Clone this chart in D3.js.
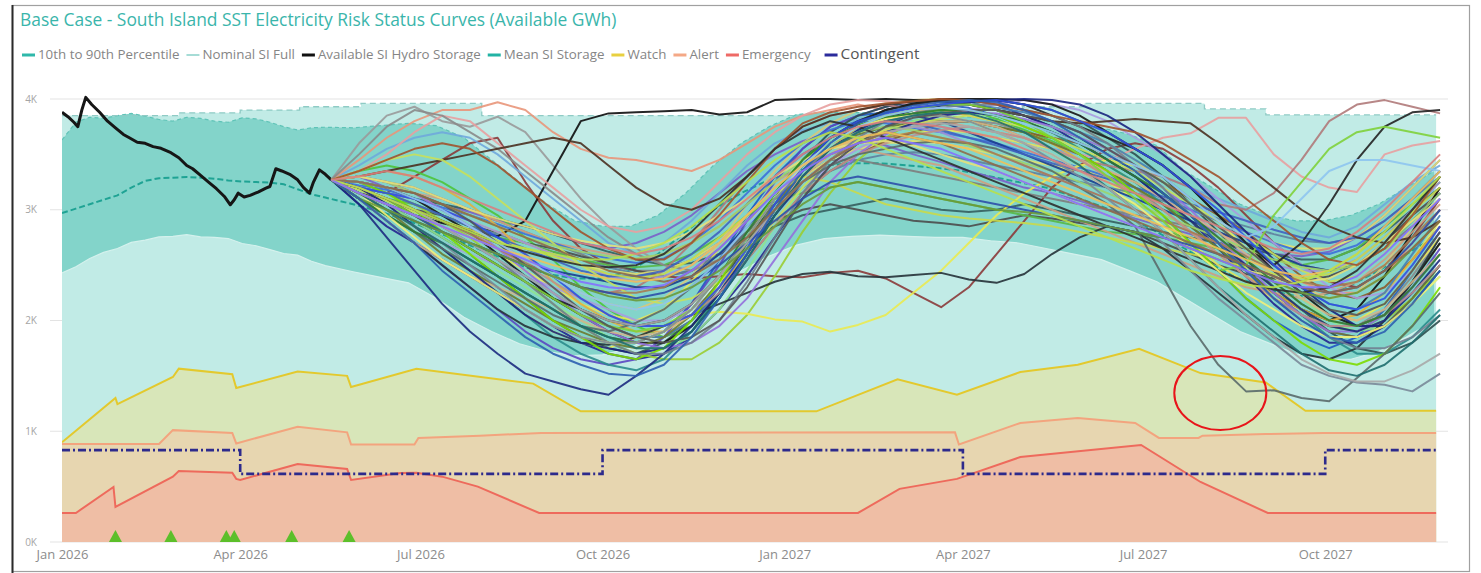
<!DOCTYPE html>
<html>
<head>
<meta charset="utf-8">
<script src="https://cdn.jsdelivr.net/npm/d3@7"></script>
<style>
  body { margin: 0; background: #fff; }
  svg { display: block; font-family: "Open Sans", "Noto Sans", sans-serif; }
</style>
</head>
<body>
<svg id="chart" width="1481" height="573"></svg>
<script>
// ---------------- data ----------------
const titleText = "Base Case - South Island SST Electricity Risk Status Curves (Available GWh)";

const xTickDates = ["2026-01-01","2026-04-01","2026-07-01","2026-10-01","2027-01-01","2027-04-01","2027-07-01","2027-10-01"];
const yTickValues = [0, 1000, 2000, 3000, 4000];

// Nominal SI full storage, monthly steps
const nominalMonths = ["2026-01-01","2026-02-01","2026-03-01","2026-04-01","2026-05-01","2026-06-01","2026-07-01","2026-08-01","2026-09-01","2026-10-01","2026-11-01","2026-12-01",
  "2027-01-01","2027-02-01","2027-03-01","2027-04-01","2027-05-01","2027-06-01","2027-07-01","2027-08-01","2027-09-01","2027-10-01","2027-11-01"];
const nominalFull = [3850,3850,3875,3900,3930,3960,3960,3850,3850,3850,3850,3850,
  3850,3850,3875,3900,3930,3960,3960,3910,3856,3856,3856];
const seriesEnd = "2027-11-26";

// Percentile band and mean storage
const bandDates = ["2026-01-01","2026-01-08","2026-01-15","2026-01-22","2026-01-29","2026-02-05","2026-02-12","2026-02-19","2026-02-26","2026-03-05",
  "2026-03-12","2026-03-19","2026-03-26","2026-04-02","2026-04-09","2026-04-16","2026-04-23","2026-04-30","2026-05-07","2026-05-14",
  "2026-05-28","2026-06-11","2026-06-25","2026-07-09","2026-07-23","2026-08-06","2026-08-20","2026-09-03","2026-09-17","2026-10-01",
  "2026-10-15","2026-10-29","2026-11-12","2026-11-26","2026-12-10","2026-12-24","2027-01-07","2027-01-21","2027-02-04","2027-02-18",
  "2027-03-04","2027-03-18","2027-04-01","2027-04-15","2027-04-29","2027-05-13","2027-05-27","2027-06-10","2027-06-24","2027-07-08",
  "2027-07-22","2027-08-05","2027-08-19","2027-09-02","2027-09-16","2027-09-30","2027-10-14","2027-10-28","2027-11-11","2027-11-25"];
const p90 = [3630,3790,3835,3825,3850,3870,3845,3815,3800,3835,3825,3800,3790,3830,3820,3790,3750,3720,3740,3745,
  3740,3760,3780,3760,3650,3450,3250,3050,2900,2850,2850,2950,3150,3400,3600,3750,
  3860,3880,3880,3870,3860,3850,3840,3830,3820,3800,3780,3740,3680,3580,3350,3200,3050,2950,2900,2900,2950,3050,3200,3350];
const p10 = [2430,2485,2560,2615,2650,2705,2725,2755,2760,2775,2755,2750,2740,2695,2675,2640,2605,2590,2535,2495,
  2440,2390,2340,2200,2030,1900,1790,1720,1680,1690,1750,1900,2100,2300,2450,2580,
  2680,2740,2760,2770,2760,2750,2750,2720,2700,2650,2600,2550,2450,2350,2200,2050,1900,1800,1700,1650,1650,1720,1850,2000];
const meanStorage = [2970,3010,3050,3090,3130,3200,3260,3285,3290,3295,3290,3280,3265,3255,3250,3245,3230,3185,3140,3110,
  3050,2980,2900,2800,2700,2600,2500,2420,2380,2380,2450,2600,2800,3000,3150,3270,
  3350,3400,3420,3420,3400,3380,3350,3300,3250,3200,3120,3030,2930,2800,2650,2500,2380,2280,2220,2230,2320,2450,2600,2750];

// Available SI hydro storage (actual)
const availDates = ["2026-01-01","2026-01-04","2026-01-07","2026-01-09","2026-01-11","2026-01-13","2026-01-16","2026-01-20","2026-01-24","2026-01-28",
  "2026-02-01","2026-02-04","2026-02-08","2026-02-12","2026-02-16","2026-02-20","2026-02-25","2026-03-01","2026-03-05","2026-03-08",
  "2026-03-12","2026-03-16","2026-03-20","2026-03-24","2026-03-27","2026-03-29","2026-03-31","2026-04-03","2026-04-06","2026-04-10",
  "2026-04-14","2026-04-16","2026-04-19","2026-04-22","2026-04-26","2026-04-30","2026-05-03","2026-05-06","2026-05-08","2026-05-11",
  "2026-05-14","2026-05-17"];
const availStorage = [3880,3840,3790,3750,3900,4015,3950,3880,3800,3740,
  3680,3650,3610,3600,3570,3555,3515,3470,3400,3370,
  3310,3250,3190,3120,3045,3090,3150,3115,3130,3160,
  3195,3210,3370,3350,3320,3270,3200,3150,3250,3360,
  3320,3270];

// Risk status curves
const watchDates = ["2026-01-01","2026-01-28","2026-01-29","2026-02-26","2026-03-01","2026-03-28","2026-03-30","2026-04-30","2026-05-25","2026-05-27",
  "2026-06-29","2026-08-27","2026-09-20","2027-01-17","2027-02-27","2027-03-29","2027-04-30","2027-05-29","2027-06-29","2027-07-30",
  "2027-09-01","2027-09-21","2027-11-26"];
const watchValues = [900,1300,1245,1490,1565,1515,1390,1540,1500,1400,
  1565,1430,1180,1180,1470,1330,1535,1600,1745,1525,
  1440,1185,1185];

const alertDates = ["2026-01-01","2026-02-19","2026-02-26","2026-03-28","2026-03-30","2026-04-30","2026-05-25","2026-05-27","2026-06-28","2026-06-30",
  "2026-07-31","2026-08-31","2027-03-28","2027-03-30","2027-04-30","2027-05-29","2027-06-27","2027-07-09","2027-07-29","2027-07-31",
  "2027-09-01","2027-09-30","2027-11-26"];
const alertValues = [885,885,1010,985,890,1040,990,880,880,940,
  960,985,990,880,1075,1120,1075,940,940,960,
  975,985,985];

const emergencyDates = ["2026-01-01","2026-01-08","2026-01-27","2026-01-28","2026-02-26","2026-03-01","2026-03-28","2026-03-30","2026-04-01","2026-04-30",
  "2026-05-25","2026-05-27","2026-06-21","2026-06-29","2026-07-12","2026-07-30","2026-08-30","2027-02-07","2027-02-28","2027-03-29",
  "2027-04-30","2027-06-30","2027-07-30","2027-09-02","2027-11-26"];
const emergencyValues = [262,262,497,316,590,640,625,570,560,705,
  660,560,623,625,590,500,262,262,480,570,
  767,876,542,262,262];

const contingentDates = ["2026-01-01","2026-04-01","2026-10-01","2027-04-01","2027-10-01","2027-11-26"];
const contingentValues = [830,615,830,615,830,830];

// Event markers along the base of the chart
const markerDates = ["2026-01-28","2026-02-25","2026-03-25","2026-03-29","2026-04-27","2026-05-26"];

// Annotation ring
const noteDate = "2027-08-09";
const noteValue = 1345;

// Simulated storage sequences, fortnightly from 17 May 2026
const scenarioStart = "2026-05-17";
const scenarioStepDays = 14;

const s01 = [3270,3150,3000,2850,2700,2550,2400,2250,2100,1950, 1850,1800,1900,2150,2550,2950,3300,3550,3750,3850, 3880,3920,3950,3920,3850,3750,3650,3500,3350,3150, 2950,2700,2450,2200,2000,1850,1750,1850,2100,2450, 2800];
const s02 = [3270,3350,3400,3350,3250,3100,2950,2750,2550,2300, 2100,1950,1850,1950,2200,2600,3000,3350,3600,3750, 3800,3850,3880,3900,3820,3720,3620,3500,3350,3200, 3050,2900,2700,2500,2300,2100,1950,1900,2050,2350, 2700];
const s03 = [3270,3200,3100,2950,2800,2700,2600,2450,2300,2150, 2050,2000,2100,2350,2650,2950,3200,3400,3550,3620, 3650,3700,3720,3700,3650,3600,3550,3400,3250,3100, 2900,2700,2500,2350,2200,2100,2000,2050,2250,2550, 2900];
const s04 = [3270,3100,2900,2700,2500,2300,2100,1900,1750,1650, 1600,1650,1850,2150,2500,2900,3250,3550,3750,3850, 3930,3970,3990,4000,3980,3900,3800,3700,3550,3400, 3200,2950,2700,2450,2250,2050,1900,1850,2000,2300, 2650];
const s05 = [3270,3200,3050,2900,2750,2600,2400,2200,2000,1850, 1750,1700,1800,2000,2300,2700,3100,3450,3700,3850, 3930,3980,4000,4000,3990,3950,3900,3800,3650,3500, 3300,3050,2800,2550,2300,2100,1900,1750,1700,1800, 2000];
const s06 = [3270,3300,3250,3150,3000,2850,2700,2550,2400,2250, 2150,2100,2200,2400,2700,3050,3350,3600,3780,3900, 3960,3990,4000,3990,3950,3900,3850,3750,3600,3450, 3250,3050,2850,2650,2450,2300,2200,2250,2500,2850, 3200];
const s07 = [3270,3050,2850,2700,2550,2400,2250,2100,1950,1800, 1700,1650,1700,1850,2100,2400,2750,3100,3400,3600, 3750,3870,3950,3990,3950,3850,3750,3600,3450,3300, 3100,2900,2650,2400,2150,1950,1800,1800,1950,2200, 2500];
const s08 = [3270,3200,3150,3050,2900,2750,2550,2350,2150,1950, 1800,1700,1650,1650,1800,2050,2400,2800,3150,3450, 3650,3800,3850,3900,3850,3800,3700,3550,3400,3250, 3100,2900,2700,2500,2300,2100,1950,1900,2000,2200, 2450];
const s09 = [3270,3150,3050,2950,2800,2650,2500,2350,2200,2050, 1950,1850,1850,2000,2250,2550,2850,3150,3350,3500, 3620,3700,3780,3800,3750,3700,3650,3600,3500,3400, 3250,3100,2950,2800,2600,2400,2250,2200,2300,2550, 2850];
const s10 = [3270,3400,3550,3650,3700,3650,3500,3300,3100,2900, 2700,2600,2700,2900,3150,3400,3600,3720,3780,3820, 3850,3800,3750,3700,3650,3600,3550,3500,3450,3400, 3300,3200,3100,3000,2900,2800,2750,2850,3050,3250, 3400];
const s11 = [3270,3500,3750,3900,3850,3700,3550,3350,3150,2950, 2750,2600,2500,2450,2550,2800,3050,3300,3500,3620, 3700,3750,3780,3800,3780,3700,3600,3500,3350,3200, 3000,2800,2600,2400,2200,2050,1950,1950,2100,2400, 2750];
const s12 = [3270,3150,3000,2850,2700,2600,2500,2400,2300,2200, 2100,2000,2000,2100,2300,2600,2900,3200,3400,3550, 3680,3780,3850,3900,3950,3990,3950,3900,3800,3650, 3500,3300,3100,2900,2700,2500,2300,2200,2250,2450, 2750];
const s13 = [3270,3100,2950,2800,2650,2450,2250,2050,1850,1700, 1600,1550,1650,1900,2250,2650,3050,3400,3650,3800, 3900,3960,3990,3980,3900,3800,3700,3550,3400,3250, 3050,2850,2650,2450,2250,2050,1850,1700,1700,1850, 2100];
const s14 = [3270,3250,3200,3100,2950,2800,2600,2400,2200,2050, 1900,1800,1800,1950,2250,2600,3000,3350,3600,3780, 3900,3960,4000,4000,4000,3990,3950,3850,3700,3550, 3400,3200,2950,2700,2450,2250,2050,1950,2050,2350, 2700];
const s15 = [3270,3150,3050,2900,2750,2600,2450,2300,2150,2000, 1850,1750,1750,1850,2100,2450,2850,3200,3450,3620, 3740,3800,3850,3870,3850,3800,3750,3650,3550,3400, 3250,3050,2850,2650,2400,2200,2000,1900,1950,2150, 2400];
const s16 = [3270,3300,3350,3300,3200,3050,2850,2600,2350,2150, 2000,1900,1900,2050,2300,2600,2950,3300,3550,3750, 3850,3900,3900,3850,3800,3700,3600,3450,3300,3150, 3000,2800,2600,2400,2250,2100,2000,2050,2250,2550, 2850];
const s17 = [3270,3200,3100,3000,2850,2700,2550,2400,2250,2100, 1950,1850,1850,2000,2250,2600,3000,3350,3600,3750, 3830,3900,3950,3950,3920,3880,3800,3700,3600,3450, 3300,3100,2900,2700,2500,2300,2150,2100,2250,2600, 2950];
const s18 = [3270,3150,3000,2800,2600,2450,2300,2150,2000,1900, 1800,1750,1850,2050,2350,2700,3050,3350,3550,3680, 3750,3780,3800,3800,3750,3700,3600,3500,3350,3200, 3050,2850,2650,2450,2250,2050,1900,1850,1950,2200, 2500];
const s19 = [3270,3300,3250,3150,3000,2850,2650,2450,2250,2050, 1900,1800,1750,1800,1950,2200,2550,2900,3250,3500, 3680,3780,3850,3880,3870,3820,3750,3650,3550,3400, 3200,3000,2750,2500,2250,2050,1900,1900,2050,2300, 2600];
const s20 = [3270,3100,2900,2700,2550,2400,2300,2200,2100,2000, 1900,1850,1900,2050,2300,2650,3000,3300,3500,3650, 3720,3780,3800,3800,3750,3650,3550,3450,3350,3250, 3100,2950,2800,2600,2400,2200,2050,2000,2100,2350, 2600];
const s21 = [3270,3350,3450,3500,3450,3300,3100,2900,2700,2500, 2350,2200,2150,2200,2350,2600,2900,3200,3450,3620, 3720,3780,3820,3850,3800,3750,3650,3550,3450,3350, 3200,3050,2900,2750,2600,2450,2350,2400,2600,2950, 3300];
const s22 = [3270,3200,3050,2850,2650,2450,2250,2050,1900,1800, 1750,1700,1750,1900,2200,2550,2950,3300,3550,3720, 3830,3900,3940,3970,3990,4000,3990,3950,3850,3700, 3500,3300,3050,2800,2550,2300,2100,1950,1950,2150, 2450];
const s23 = [3270,3200,3100,3000,2900,2800,2650,2500,2350,2200, 2050,1950,1950,2050,2250,2550,2850,3150,3350,3500, 3600,3670,3720,3750,3700,3650,3550,3450,3300,3150, 3000,2800,2600,2400,2200,2050,1950,1950,2050,2250, 2500];
const s24 = [3270,3250,3150,3000,2800,2600,2400,2200,2000,1850, 1700,1650,1750,2000,2350,2750,3150,3450,3650,3760, 3830,3870,3900,3900,3850,3750,3650,3500,3350,3150, 2950,2700,2450,2200,2000,1800,1650,1600,1700,1950, 2300];
const s25 = [3270,3150,3050,2950,2850,2700,2550,2350,2150,1950, 1800,1700,1700,1800,2000,2350,2750,3150,3450,3650, 3800,3870,3920,3950,3950,3900,3850,3750,3600,3400, 3200,2950,2700,2450,2200,2000,1850,1750,1750,1850, 2050];
const s26 = [3270,3350,3450,3550,3600,3550,3400,3200,3000,2800, 2650,2550,2550,2700,2950,3250,3550,3780,3880,3930, 3960,3980,4000,3990,3950,3900,3850,3800,3750,3700, 3600,3450,3300,3100,2900,2700,2550,2500,2650,2950, 3300];
const s27 = [3270,3100,2950,2800,2700,2550,2400,2250,2100,1950, 1850,1800,1900,2100,2400,2800,3150,3450,3650,3760, 3830,3870,3900,3900,3850,3800,3700,3600,3450,3300, 3150,2950,2750,2550,2350,2150,2000,1950,2050,2300, 2600];
const s28 = [3270,3200,3150,3100,3000,2900,2750,2600,2400,2200, 2050,1950,1950,2050,2300,2650,3050,3400,3650,3800, 3870,3920,3950,3980,3990,3950,3900,3800,3700,3550, 3400,3200,3000,2750,2500,2300,2150,2100,2200,2500, 2850];
const s29 = [3270,3150,2950,2750,2550,2400,2250,2100,1950,1850, 1800,1800,1900,2100,2400,2750,3100,3400,3600,3750, 3820,3850,3850,3800,3700,3600,3500,3350,3200,3050, 2850,2650,2450,2250,2100,1950,1850,1850,1950,2150, 2400];
const s30 = [3270,3250,3200,3150,3050,2900,2700,2500,2300,2100, 1950,1850,1800,1850,2000,2300,2700,3100,3400,3600, 3750,3830,3870,3900,3900,3850,3800,3700,3550,3400, 3250,3050,2850,2650,2450,2250,2100,2050,2150,2450, 2800];
const s31 = [3270,3150,3000,2850,2700,2550,2400,2250,2100,1950, 1850,1750,1750,1900,2200,2550,2950,3300,3550,3700, 3800,3850,3880,3870,3800,3700,3550,3400,3200,3000, 2800,2550,2300,2100,1900,1700,1550,1500,1600,1800, 2050];
const s32 = [3270,3200,3100,3000,2850,2700,2550,2400,2250,2100, 2000,1950,2000,2150,2400,2700,3000,3250,3450,3600, 3700,3750,3780,3750,3700,3600,3500,3350,3200,3000, 2800,2550,2300,2050,1850,1650,1520,1450,1450,1550, 1700];
const s33 = [3270,3100,2900,2700,2450,2250,2050,1850,1700,1600, 1520,1500,1600,1850,2200,2600,3000,3350,3600,3780, 3880,3940,3970,3990,3970,3900,3800,3650,3500,3350, 3150,2950,2700,2450,2200,2000,1850,1800,1900,2150, 2450];
const s34 = [3270,3050,2750,2450,2150,1900,1700,1520,1450,1380, 1330,1500,1700,1950,2250,2600,2950,3250,3450,3600, 3700,3780,3850,3880,3850,3800,3700,3600,3450,3300, 3100,2900,2700,2500,2300,2100,1950,1900,2000,2250, 2550];
const s35 = [3270,3150,3050,2950,2880,2820,2760,2900,3350,3800, 3870,3880,3890,3900,3860,3880,3990,4000,4000,3990, 4000,3990,3980,3950,3900,3850,3750,3650,3500,3350, 3150,2950,2700,2450,2250,2100,2000,2100,2400,2800, 3200];
const s36 = [3270,3150,3000,2850,2650,2450,2250,2050,1900,1800, 1750,1850,1950,2050,2080,2060,2010,1990,1900,1960, 2050,2250,2450,2700,2950,3150,3300,3400,3450,3400, 3300,3100,2900,2650,2400,2200,2050,2000,2150,2450, 2750];
const s37 = [3270,3100,2900,2700,2500,2300,2100,1950,1850,1800, 1780,1850,1950,2050,2150,2250,2350,2420,2440,2400, 2390,2410,2430,2370,2340,2420,2600,2750,2850,2800, 2650,2450,2250,2050,1850,1700,1650,1750,2000,2350, 2750];
const s38 = [3270,3200,3150,3300,3450,3600,3650,3250,2900,2650, 2500,2450,2400,2380,2400,2420,2400,2390,2430,2450, 2380,2250,2120,2300,2600,2900,3200,3400,3550,3600, 3550,3400,3200,2950,2700,2500,2350,2300,2450,2750, 3100];
const s39 = [3270,3100,2950,2800,2650,2500,2350,2200,2050,1950, 1900,1980,2100,2300,2550,2800,3050,3250,3400,3500, 3550,3600,3620,3600,3550,3450,3350,3200,3050,2850, 2400,1950,1600,1360,1370,1300,1270,1480,1700,1950, 2250];
const s40 = [3270,3150,3000,2850,2700,2500,2300,2100,1950,1850, 1800,1800,1900,2100,2400,2750,3100,3350,3550,3700, 3800,3850,3850,3800,3700,3600,3450,3300,3100,2900, 2700,2450,2200,2000,1800,1600,1500,1440,1420,1360, 1520];
const s41 = [3270,3350,3500,3700,3850,3800,3600,3400,3200,3000, 2850,2800,2850,3000,3250,3500,3700,3850,3950,3990, 3980,3950,3900,3850,3800,3700,3600,3500,3450,3550, 3650,3690,3830,3830,3500,3300,3200,3160,3500,3580, 3620];
const s42 = [3270,3300,3250,3150,3000,2850,2700,2550,2400,2300, 2250,2300,2450,2700,3000,3300,3550,3750,3850,3900, 3950,3900,3850,3800,3750,3650,3550,3450,3400,3350, 3300,3200,3050,3000,3150,3450,3800,3950,3990,3930, 3870];
const s43 = [3270,3200,3100,2950,2800,2650,2500,2350,2200,2100, 2000,1950,2000,2150,2400,2750,3100,3400,3650,3800, 3900,3950,3990,4000,3990,3950,3850,3750,3650,3550, 3400,3200,2950,2700,2500,2700,3050,3450,3750,3880, 3900];
const s44 = [3270,3300,3350,3400,3450,3500,3550,3600,3650,3600, 3400,3200,3050,3000,3100,3300,3550,3750,3850,3900, 3950,3980,3990,3950,3900,3850,3800,3780,3800,3820, 3800,3780,3600,3400,3200,3000,2850,2750,2700,2750, 2900];
const s45 = [3270,3450,3650,3800,3900,3900,3970,3900,3700,3550, 3470,3450,3400,3350,3450,3600,3750,3850,3900,3950, 3900,3850,3800,3750,3700,3650,3550,3450,3350,3250, 3100,2950,2800,2650,2500,2350,2250,2250,2400,2700, 3000];
const s46 = [3270,3600,3850,3930,3800,3750,3840,3700,3400,3100, 2850,2650,2500,2450,2550,2800,3100,3400,3650,3800, 3900,3950,3980,3950,3900,3800,3700,3600,3450,3300, 3150,2950,2750,2550,2350,2150,2000,1950,2050,2350, 2700];
const s47 = [3270,3200,3100,2950,2800,2650,2500,2350,2200,2050, 1950,1900,1950,2100,2400,2750,3100,3400,3600,3750, 3850,3900,3950,3950,3900,3800,3650,3500,3300,3100, 2900,2650,2450,2500,2950,3250,3550,3700,3750,3700, 3650];
const s48 = [3270,3250,3200,3100,3000,2850,2700,2550,2400,2250, 2150,2100,2150,2300,2550,2850,3150,3400,3600,3750, 3850,3900,3920,3900,3850,3780,3700,3600,3500,3400, 3300,3100,2900,2750,2850,3100,3350,3450,3450,3400, 3350];
const s49 = [3270,3220,3180,3100,3020,2950,2870,2780,2700,2620, 2560,2520,2560,2700,2900,3150,3400,3600,3720,3800, 3780,3740,3700,3650,3600,3520,3450,3380,3300,3200, 3100,3000,2900,2800,2700,2620,2600,2680,2850,3100, 3350];
const s50 = [3270,3300,3200,3150,3050,2980,2900,2850,2780,2700, 2650,2700,2800,2950,3150,3350,3500,3620,3700,3650, 3580,3500,3430,3350,3280,3200,3150,3080,3000,2920, 2850,2780,2700,2650,2600,2580,2620,2750,2950,3200, 3450];
const s51 = [3270,3180,3080,2980,2900,2820,2720,2650,2580,2500, 2420,2380,2420,2550,2750,2950,3150,3300,3250,3150, 3050,3000,2950,2920,2900,2880,2850,2800,2750,2700, 2650,2600,2550,2480,2420,2380,2420,2550,2750,2980, 3200];
const s52 = [3270,3150,3100,3000,2950,2850,2800,2700,2650,2580, 2520,2450,2400,2450,2600,2750,2900,3000,3050,3000, 2950,2900,2880,2850,2900,2950,2920,2880,2850,2800, 2700,2600,2500,2420,2380,2350,2400,2500,2700,2950, 3150];
const s53 = [3270,3300,3250,3200,3100,3000,2920,2850,2780,2720, 2680,2650,2700,2800,2950,3100,3300,3450,3550,3600, 3620,3580,3500,3420,3350,3250,3150,3050,2950,2850, 2750,2650,2550,2450,2400,2350,2380,2500,2700,2900, 3100];
const s54 = [3270,3150,3050,2950,2800,2700,2600,2500,2400,2300, 2250,2200,2250,2350,2500,2700,2900,3100,3250,3300, 3250,3200,3150,3100,3050,3000,2950,2900,2850,2800, 2750,2680,2600,2500,2400,2300,2250,2300,2450,2700, 3000];
const s55 = [3270,3200,3100,3050,2950,2850,2750,2700,2620,2550, 2500,2480,2500,2600,2750,2950,3100,3150,3200,3250, 3200,3150,3100,3050,3000,2950,2900,2850,2800,2780, 2750,2700,2650,2600,2550,2500,2550,2650,2850,3050, 3250];
const s56 = [3270,3250,3200,3150,3050,2950,2850,2750,2650,2550, 2450,2400,2350,2400,2550,2750,3000,3250,3450,3600, 3700,3650,3600,3500,3400,3300,3200,3100,3000,2900, 2800,2700,2600,2500,2400,2300,2250,2300,2450,2650, 2900];
const s57 = [3270,3200,3150,3100,3000,2900,2800,2700,2600,2500, 2400,2350,2400,2500,2700,2950,3200,3400,3550,3650, 3700,3750,3700,3600,3500,3400,3300,3200,3100,3000, 2900,2800,2700,2600,2500,2450,2450,2550,2750,3000, 3250];
const s58 = [3270,3150,3050,2950,2850,2750,2650,2580,2500,2430, 2380,2350,2380,2500,2700,2950,3200,3400,3550,3650, 3700,3650,3600,3550,3450,3350,3250,3150,3050,2950, 2850,2750,2650,2550,2450,2400,2450,2600,2850,3100, 3350];
const s59 = [3270,3200,3150,3100,3050,3000,2920,2850,2780,2700, 2620,2550,2500,2520,2600,2750,2850,2950,3000,3050, 3100,3050,3000,2980,3000,3050,3000,2950,2900,2850, 2800,2750,2700,2650,2600,2550,2550,2650,2800,3000, 3200];
const s60 = [3270,3100,3000,2900,2800,2700,2600,2500,2400,2300, 2220,2180,2200,2300,2450,2650,2850,3050,3200,3250, 3200,3150,3100,3050,3000,2980,2950,2900,2850,2800, 2750,2650,2550,2450,2350,2250,2200,2250,2400,2650, 2900];
const s61 = [3270,3250,3200,3150,3100,3000,2900,2800,2700,2650, 2600,2550,2600,2700,2850,3050,3250,3400,3500,3550, 3500,3450,3400,3300,3200,3100,3000,2900,2800,2700, 2600,2500,2400,2300,2250,2200,2250,2350,2550,2800, 3050];
const s62 = [3270,3150,3000,2900,2800,2700,2600,2500,2450,2400, 2350,2300,2300,2400,2600,2850,3100,3350,3550,3700, 3800,3850,3800,3700,3600,3500,3400,3300,3200,3100, 3000,2900,2800,2700,2600,2500,2450,2500,2650,2900, 3150];
const s63 = [3270,3200,3100,3000,2900,2800,2700,2650,2600,2550, 2550,2600,2700,2850,3050,3250,3450,3600,3700,3650, 3550,3450,3350,3250,3150,3050,2950,2850,2750,2650, 2550,2450,2380,2320,2300,2350,2450,2600,2800,3050, 3300];
const s64 = [3270,3300,3250,3200,3100,3000,2900,2800,2700,2600, 2500,2450,2450,2550,2700,2900,3100,3300,3450,3450, 3400,3350,3300,3250,3200,3150,3100,3050,3000,2950, 2900,2850,2800,2700,2600,2500,2450,2500,2650,2850, 3100];
const s65 = [3270,3200,3150,3050,2950,2850,2750,2650,2550,2450, 2400,2400,2450,2600,2800,3050,3300,3500,3650,3750, 3800,3780,3720,3650,3580,3500,3420,3350,3280,3200, 3120,3050,2980,2900,2820,2750,2700,2750,2900,3100, 3350];
const s66 = [3270,3200,3100,3000,2900,2780,2650,2520,2400,2300, 2250,2250,2300,2450,2650,2900,3150,3350,3500,3600, 3650,3700,3650,3600,3500,3400,3300,3200,3100,3000, 2900,2800,2700,2580,2450,2350,2300,2350,2500,2750, 3000];
const s67 = [3270,3250,3200,3100,3000,2900,2800,2700,2600,2500, 2450,2420,2450,2550,2700,2900,3100,3300,3450,3550, 3600,3620,3600,3550,3500,3450,3400,3350,3300,3200, 3100,3000,2900,2800,2700,2650,2650,2750,2950,3200, 3450];
const s68 = [3270,3200,3100,3000,2900,2800,2700,2620,2550,2500, 2480,2500,2600,2800,3050,3300,3550,3700,3800,3750, 3650,3550,3450,3350,3250,3150,3050,2950,2850,2750, 2650,2550,2450,2350,2280,2250,2300,2450,2700,3000, 3300];
const s69 = [3270,3150,3050,2950,2850,2750,2650,2550,2450,2350, 2300,2280,2320,2450,2650,2900,3150,3350,3500,3600, 3650,3600,3550,3450,3350,3250,3150,3050,2950,2850, 2750,2650,2550,2450,2350,2300,2300,2400,2600,2850, 3100];
const s70 = [3270,3300,3250,3150,3050,2950,2850,2750,2680,2620, 2580,2560,2600,2700,2850,3050,3250,3450,3600,3700, 3750,3720,3650,3580,3500,3420,3350,3250,3150,3050, 2950,2850,2750,2650,2550,2480,2450,2500,2650,2900, 3150];
const s71 = [3270,3250,3150,3050,2950,2850,2780,2700,2620,2550, 2480,2420,2400,2450,2600,2800,3000,3200,3350,3450, 3500,3520,3500,3450,3400,3350,3300,3250,3200,3150, 3080,3000,2920,2850,2780,2720,2700,2750,2900,3100, 3300];
const s72 = [3270,3300,3350,3300,3200,3100,3000,2900,2800,2700, 2650,2600,2650,2750,2900,3100,3300,3500,3650,3750, 3800,3780,3750,3700,3650,3550,3450,3350,3250,3150, 3050,2950,2850,2750,2650,2600,2650,2800,3000,3250, 3500];

const scenarios = [s50,s38,s59,s01,s10,s64,s02,s45,s52,s03,s04,s71,s46,s05,s55,s06,s35,s61,s07,s08,s67,s41,s09,s49,s11,s12,s36,s13,s57,s14,s42,s15,s62,
  s16,s37,s17,s65,s18,s19,s44,s20,s51,s21,s34,s22,s70,s23,s43,s24,s53,s25,s39,s26,s66,s27,s47,s28,s68,s29,s40,s30,s54,s31,s48,s32,s60,s33,s56,s58,s63,s69,s72];
const scenarioColors = ["#7a5fc9","#8b3a3a","#355e5e","#1f56c4","#6fa8dc","#7d7d7d","#4cc43a","#e9967a","#4b4b4b","#e6e65a","#5b47c2","#5f7f9f","#9a9a9a","#2f4f4f","#58b845","#d9c77a","#0d0d0d","#cf9f7f","#24248f","#9acd32","#e0e070","#e8a0a0","#8b5a2b","#3d6fd9","#8a8a8a","#a99ae0","#eaea50","#2a8c8c","#9e8fd6","#151515","#b07a7a","#8fe38f","#1b3d8f",
  "#e0b040","#263238","#4682b4","#4062c0","#6b7a2f","#9370db","#4a3020","#d2b48c","#c9d94a","#c8e05a","#1c2a80","#1a237e","#9ed36a","#bc8f8f","#222222","#7cdc00","#e5e07a","#708090","#5a6a6a","#a0522d","#a67c52","#2e7d32","#7fd13b","#3050e0","#2f2f2f","#f2f07a","#7a8a99","#555555","#2e4fa8","#1f6f6f","#8ec5ef","#a8a8a8","#6a9a3a","#2c5fb0","#8e6b4a","#f0c05a","#b8e04a","#8470ff","#d88080"];

const legendItems = [
  { label: "10th to 90th Percentile", color: "#2fb8aa", w: 3 },
  { label: "Nominal SI Full", color: "#a6dcd6", w: 2 },
  { label: "Available SI Hydro Storage", color: "#111111", w: 3 },
  { label: "Mean SI Storage", color: "#22b3a4", w: 3 },
  { label: "Watch", color: "#e8d040", w: 3 },
  { label: "Alert", color: "#f4a886", w: 3 },
  { label: "Emergency", color: "#ee6a66", w: 3 },
  { label: "Contingent", color: "#2b2b9c", w: 3, big: true }
];

// ---------------- drawing ----------------
const parse = d3.utcParse("%Y-%m-%d");
const svg = d3.select("#chart");

const x = d3.scaleUtc().domain([parse("2026-01-01"), parse("2027-12-02")]).range([62, 1448]);
const y = d3.scaleLinear().domain([0, 4000]).range([542, 99]);

// visual frame
svg.append("rect").attr("x", 12.5).attr("y", 5.5).attr("width", 1457).attr("height", 566)
  .attr("fill", "#fff").attr("stroke", "#a0a0a0").attr("stroke-width", 1.2);
svg.append("line").attr("x1", 12.5).attr("x2", 12.5).attr("y1", 5).attr("y2", 573)
  .attr("stroke", "#2a2a2a").attr("stroke-width", 2);

// title
const title = svg.append("text").attr("x", 20).attr("y", 26).attr("fill", "#3ab5ab")
  .attr("font-size", 17).text(titleText);
title.attr("font-size", 17 * 597 / title.node().getComputedTextLength());

// legend
const lg = svg.append("g");
const legendTexts = legendItems.map(d => lg.append("text").attr("font-size", d.big ? 13.5 : 11.5)
  .attr("fill", d.big ? "#555" : "#858585").attr("y", 59).text(d.label));
const naturalW = legendTexts.slice(0, 7).reduce((s, t) => s + t.node().getComputedTextLength(), 0);
const fs = 11.5 * 635 / naturalW;
legendTexts.forEach((t, i) => t.attr("font-size", legendItems[i].big ? fs * 1.15 : fs));
let lx = 22;
legendItems.forEach((d, i) => {
  lg.append("line").attr("x1", lx).attr("x2", lx + 13).attr("y1", 55).attr("y2", 55)
    .attr("stroke", d.color).attr("stroke-width", d.w);
  legendTexts[i].attr("x", lx + 16);
  lx += 16 + legendTexts[i].node().getComputedTextLength() + (i === 6 ? 14 : 7);
});

// gridlines
svg.append("g").selectAll("line").data(yTickValues).join("line")
  .attr("x1", 50).attr("x2", 1448).attr("y1", d => y(d)).attr("y2", d => y(d))
  .attr("stroke", "#e3e3e3").attr("stroke-width", 1);

// y axis labels
const yAxis = svg.append("g").attr("transform", "translate(50,0)")
  .call(d3.axisLeft(y).tickValues(yTickValues).tickFormat(d => (d / 1000) + "K").tickSize(0).tickPadding(13));
yAxis.select(".domain").remove();
yAxis.selectAll("text").attr("font-size", 10).attr("fill", "#a5a5a5").attr("font-family", "Open Sans, sans-serif");

// x axis labels
const xAxis = svg.append("g").attr("transform", "translate(0,542)")
  .call(d3.axisBottom(x).tickValues(xTickDates.map(parse)).tickFormat(d3.utcFormat("%b %Y")).tickSize(0).tickPadding(8));
xAxis.select(".domain").remove();
xAxis.selectAll("text").attr("font-size", 13).attr("fill", "#8c8c8c").attr("font-family", "Open Sans, sans-serif");

// plot body
svg.append("clipPath").attr("id", "plotClip").append("rect")
  .attr("x", 62).attr("y", 88).attr("width", 1386).attr("height", 454);
const plot = svg.append("g").attr("clip-path", "url(#plotClip)");

const endDate = parse(seriesEnd);
const pairs = (dates, vals) => dates.map((d, i) => ({ date: parse(d), v: vals[i] }));

// nominal full area (stepped)
const nominal = pairs(nominalMonths, nominalFull);
nominal.push({ date: endDate, v: nominalFull[nominalFull.length - 1] });
plot.append("path").datum(nominal)
  .attr("d", d3.area().curve(d3.curveStepAfter).x(d => x(d.date)).y0(y(0)).y1(d => y(d.v)))
  .attr("fill", "#c1ebe6");

// percentile band
const band = bandDates.map((d, i) => ({ date: parse(d), lo: p10[i], hi: p90[i], m: meanStorage[i] }));
plot.append("path").datum(band)
  .attr("d", d3.area().x(d => x(d.date)).y0(d => y(d.lo)).y1(d => y(d.hi)))
  .attr("fill", "#83d4ca");
plot.append("path").datum(band)
  .attr("d", d3.line().x(d => x(d.date)).y(d => y(d.lo)))
  .attr("fill", "none").attr("stroke", "#d4f1ed").attr("stroke-width", 1.2);
plot.append("path").datum(band)
  .attr("d", d3.line().x(d => x(d.date)).y(d => y(d.hi)))
  .attr("fill", "none").attr("stroke", "#5fc3b7").attr("stroke-width", 1.2).attr("stroke-dasharray", "4,3");

// nominal dashed line
plot.append("path").datum(nominal)
  .attr("d", d3.line().curve(d3.curveStepAfter).x(d => x(d.date)).y(d => y(d.v)))
  .attr("fill", "none").attr("stroke", "#8fcbc5").attr("stroke-width", 1.3).attr("stroke-dasharray", "6,4");

// mean storage
plot.append("path").datum(band)
  .attr("d", d3.line().x(d => x(d.date)).y(d => y(d.m)))
  .attr("fill", "none").attr("stroke", "#1fa394").attr("stroke-width", 2).attr("stroke-dasharray", "6,3");

// risk status areas
const watch = pairs(watchDates, watchValues);
const alert = pairs(alertDates, alertValues);
const emergency = pairs(emergencyDates, emergencyValues);
const areaGen = d3.area().x(d => x(d.date)).y0(y(0)).y1(d => y(d.v));
plot.append("path").datum(watch).attr("d", areaGen).attr("fill", "#d8e6b9");
plot.append("path").datum(alert).attr("d", areaGen).attr("fill", "#e7d6b0");
plot.append("path").datum(emergency).attr("d", areaGen).attr("fill", "#efbea5");

const lineGen = d3.line().x(d => x(d.date)).y(d => y(d.v));
plot.append("path").datum(watch).attr("d", lineGen).attr("fill", "none").attr("stroke", "#e3c92d").attr("stroke-width", 2);
plot.append("path").datum(alert).attr("d", lineGen).attr("fill", "none").attr("stroke", "#f3a47e").attr("stroke-width", 2);
plot.append("path").datum(emergency).attr("d", lineGen).attr("fill", "none").attr("stroke", "#ee6a5c").attr("stroke-width", 2);

// available storage
plot.append("path").datum(pairs(availDates, availStorage)).attr("d", lineGen)
  .attr("fill", "none").attr("stroke", "#161616").attr("stroke-width", 3).attr("stroke-linejoin", "round");

// simulated sequences
const startDate = parse(scenarioStart);
const scenarioDates = d3.range(s01.length).map(i => d3.utcDay.offset(startDate, i * scenarioStepDays));
const scenLine = d3.line().x((d, i) => x(scenarioDates[i])).y(d => y(d));
plot.append("g").selectAll("path").data(scenarios).join("path")
  .attr("d", scenLine).attr("fill", "none")
  .attr("stroke", (d, i) => scenarioColors[i % scenarioColors.length])
  .attr("stroke-width", 2).attr("stroke-opacity", 0.9).attr("stroke-linejoin", "round");

// contingent storage
plot.append("path").datum(pairs(contingentDates, contingentValues))
  .attr("d", d3.line().curve(d3.curveStepAfter).x(d => x(d.date)).y(d => y(d.v)))
  .attr("fill", "none").attr("stroke", "#2d2a8c").attr("stroke-width", 2.6).attr("stroke-dasharray", "8,3,2,3");

// event markers
svg.append("g").selectAll("path").data(markerDates).join("path")
  .attr("d", d => { const cx = x(parse(d)), b = y(0); return `M${cx - 6.5},${b}L${cx},${b - 12}L${cx + 6.5},${b}Z`; })
  .attr("fill", "#5cbf2a");

// annotation ring
svg.append("ellipse").attr("cx", x(parse(noteDate))).attr("cy", y(noteValue))
  .attr("rx", 46).attr("ry", 37).attr("fill", "none").attr("stroke", "#e8141a").attr("stroke-width", 2);
</script>
</body>
</html>
